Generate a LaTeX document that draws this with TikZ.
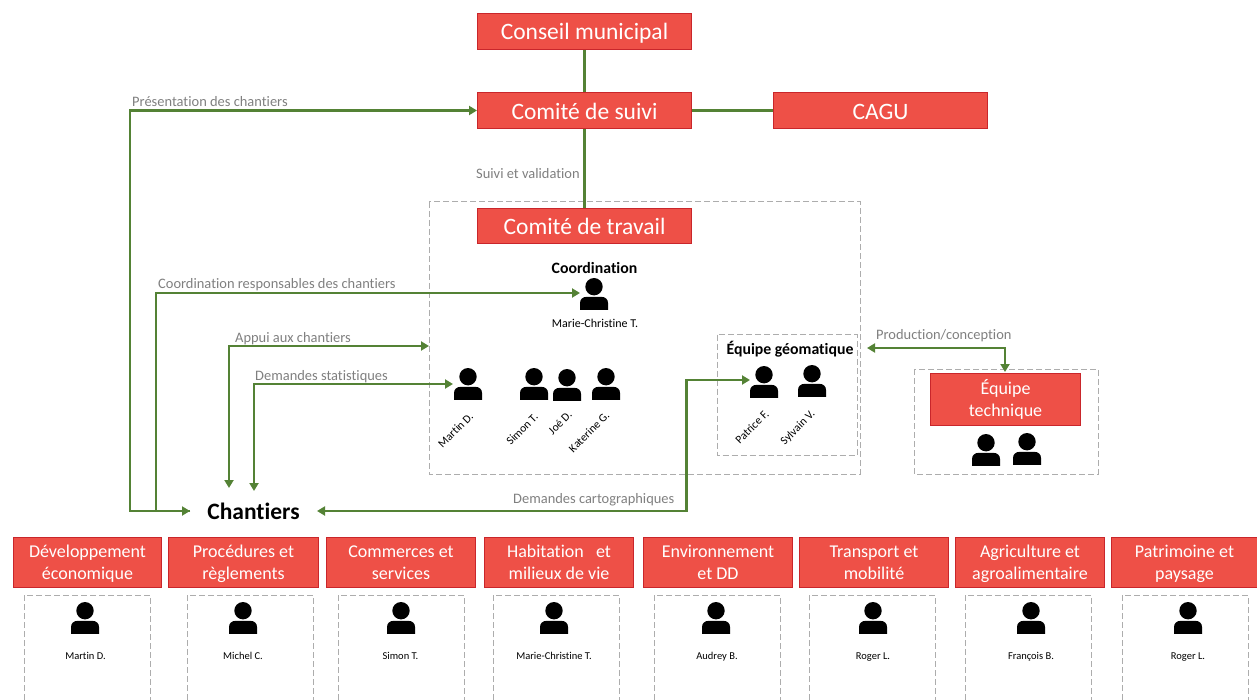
\documentclass[tikz,border=0pt]{standalone}
\usepackage{fontspec}
\setmainfont[Ligatures=CommonOff]{Carlito}
\usetikzlibrary{arrows.meta}
\definecolor{boxred}{HTML}{EE5047}
\definecolor{boxline}{HTML}{C9262B}
\definecolor{linkgreen}{HTML}{548235}
\definecolor{labelgray}{HTML}{7F7F7F}
\definecolor{dashgray}{HTML}{ADADAD}
\tikzset{
  x=1pt,y=-1pt,
  redbox/.style={draw=boxline,line width=1pt,fill=boxred,text=white,anchor=north west,inner sep=0pt,align=center,font=\fontsize{#1}{22.5}\selectfont},
  bigbox/.style={redbox=23.5,minimum width=214pt,minimum height=36pt},
  smallbox/.style={redbox=18,minimum height=50pt},
  link/.style={draw=linkgreen,line width=2.2pt},
  heavylink/.style={draw=linkgreen,line width=3pt},
  arrowlink/.style={link,-{Triangle[length=8pt,width=9pt]}},
  botharrow/.style={link,{Triangle[length=8pt,width=9pt]}-{Triangle[length=8pt,width=9pt]}},
  dashbox/.style={draw=dashgray,line width=1pt,dash pattern=on 6pt off 3pt},
  linklabel/.style={text=labelgray,font=\fontsize{14.45}{16}\selectfont,anchor=west,inner sep=0pt},
  headlabel/.style={font=\bfseries\fontsize{15.8}{17}\selectfont,inner sep=0pt},
  namelabel/.style={font=\fontsize{10.5}{12}\selectfont,inner sep=0pt,text height=7.5pt,text depth=2.5pt},
  slantlabel/.style={font=\fontsize{11.5}{13}\selectfont,inner sep=0pt,rotate=45},
  persnode/.style={inner sep=0pt,minimum width=28pt,minimum height=32pt}
}
\newcommand{\lowered}[1]{\raisebox{-1.5pt}[\height][\depth]{\begin{tabular}{@{}c@{}}#1\end{tabular}}}
\newcommand{\loweredby}[2]{\raisebox{#1}[\height][\depth]{#2}}
\newcommand{\personicon}[3]{%
  \node[persnode,anchor=north] (#1) at (#2,#3) {};
  \fill[black] (#2,#3+8.7) circle[radius=8.7];
  \fill[black] (#2-14,#3+31.8) -- (#2-14,#3+25) .. controls (#2-14,#3+21) and (#2-11,#3+18.8) .. (#2-7,#3+18.8) -- (#2+7,#3+18.8) .. controls (#2+11,#3+18.8) and (#2+14,#3+21) .. (#2+14,#3+25) -- (#2+14,#3+31.8) -- cycle;
}
\newcommand{\opendash}[2]{%
  \draw[dashbox] (#1,700) -- (#1,595) -- (#2,595) -- (#2,700);
}
\begin{document}
\begin{tikzpicture}
\useasboundingbox (0,0) rectangle (1257,700);
% dashed frames
\draw[dashbox] (429,202) rectangle (860,474);
\draw[dashbox] (717,334.5) rectangle (857,455);
\draw[dashbox] (914,369) rectangle (1098,474);
\opendash{24}{150}\opendash{187}{313}\opendash{338}{464}\opendash{493}{619}
\opendash{654}{780}\opendash{809}{935}\opendash{965}{1091}\opendash{1122}{1248}
% main boxes
\node[bigbox] (conseil) at (477,13) {\loweredby{-2pt}{Conseil municipal}};
\node[bigbox] (suivi) at (477,92) {\loweredby{-1pt}{Comité de suivi}};
\node[bigbox] (cagu) at (773,92) {\loweredby{-1pt}{CAGU}};
\node[bigbox,minimum height=35pt] (travail) at (477,208) {\loweredby{-0.5pt}{Comité de travail}};
\node[smallbox,minimum width=150pt,minimum height=52pt] (tech) at (930,373) {\lowered{Équipe\\technique}};
% bottom boxes
\node[smallbox,minimum width=148pt] (b1) at (13,537) {\lowered{Développement\\économique}};
\node[smallbox,minimum width=150pt] (b2) at (168,537) {\lowered{Procédures et\\règlements}};
\node[smallbox,minimum width=149pt] (b3) at (326,537) {\lowered{Commerces et\\services}};
\node[smallbox,minimum width=149pt] (b4) at (484,537) {\lowered{Habitation~~ et\\milieux de vie}};
\node[smallbox,minimum width=149pt] (b5) at (643,537) {\lowered{Environnement\\et DD}};
\node[smallbox,minimum width=149pt] (b6) at (799,537) {\lowered{Transport et\\mobilité}};
\node[smallbox,minimum width=149pt] (b7) at (955,537) {\lowered{Agriculture et\\agroalimentaire}};
\node[smallbox,minimum width=146pt] (b8) at (1111,537) {\lowered{Patrimoine et\\paysage}};
% persons
\personicon{pcoord}{594}{278}
\personicon{pmartin}{468}{368}
\personicon{psimon}{534}{368}
\personicon{pjoe}{567}{369}
\personicon{pkat}{606}{368}
\personicon{ppat}{764}{366}
\personicon{psyl}{812}{365}
\personicon{ptecha}{986}{434}
\personicon{ptechb}{1027}{433}
\personicon{pb1}{85}{602}
\personicon{pb2}{243}{602}
\personicon{pb3}{401}{602}
\personicon{pb4}{554}{602}
\personicon{pb5}{716}{602}
\personicon{pb6}{873}{602}
\personicon{pb7}{1031}{602}
\personicon{pb8}{1188}{602}
% texts
\node[font=\bfseries\fontsize{23.5}{26}\selectfont,inner sep=0pt] (chantiers) at (253.5,511) {Chantiers};
\node[headlabel] (coordlab) at (594.5,268) {Coordination};
\node[headlabel] (geolab) at (790,349) {Équipe géomatique};
\node[font=\fontsize{12}{14}\selectfont,inner sep=0pt] (mc) at (595,323) {Marie-Christine T.};
\node[slantlabel] (n1) at (455.5,430) {Martin D.};
\node[slantlabel] (n2) at (522,429) {Simon T.};
\node[slantlabel] (n3) at (560,423) {Joé D.};
\node[slantlabel] (n4) at (589,432) {Katerine G.};
\node[slantlabel] (n5) at (752,427) {Patrice F.};
\node[slantlabel] (n6) at (798,428) {Sylvain V.};
\node[namelabel] (nb1) at (85.5,657) {Martin D.};
\node[namelabel] (nb2) at (243,657) {Michel C.};
\node[namelabel] (nb3) at (400.5,657) {Simon T.};
\node[namelabel] (nb4) at (554,657) {Marie-Christine T.};
\node[namelabel] (nb5) at (717,657) {Audrey B.};
\node[namelabel] (nb6) at (873,657) {Roger L.};
\node[namelabel] (nb7) at (1031,657) {François B.};
\node[namelabel] (nb8) at (1188,657) {Roger L.};
\node[linklabel] (l1) at (132,102) {Présentation des chantiers};
\node[linklabel] (l2) at (476,173.5) {Suivi et validation};
\node[linklabel] (l3) at (158,285) {Coordination responsables des chantiers};
\node[linklabel] (l4) at (235,338.5) {Appui aux chantiers};
\node[linklabel] (l5) at (255,376.5) {Demandes statistiques};
\node[linklabel] (l6) at (513,499.5) {Demandes cartographiques};
\node[linklabel] (l7) at (876,335.5) {Production/conception};
% helper ends
\coordinate (chw) at (190,511);
\coordinate (che) at (317,511);
\coordinate (appuitip) at (429,346);
\coordinate (geotip) at (867,348);
\coordinate (techtop) at (1005,372);
% connectors
\draw[heavylink] (conseil.south) -- (suivi.north);
\draw[heavylink] (suivi.east) -- (cagu.west);
\draw[link] (suivi.south) -- (travail.north);
\draw[arrowlink] (chw) -- (130,511) |- (suivi.west);
\draw[arrowlink] (chw) -- (156,511) |- (580,293);
\draw[arrowlink] (156,511) -- (chw);
\draw[botharrow] (229,488) |- (appuitip);
\draw[botharrow] (254,491) |- (453,384);
\draw[botharrow] (che) -- (686.5,511) |- (750,380);
\draw[botharrow] (geotip) -| (techtop);
\end{tikzpicture}
\end{document}
